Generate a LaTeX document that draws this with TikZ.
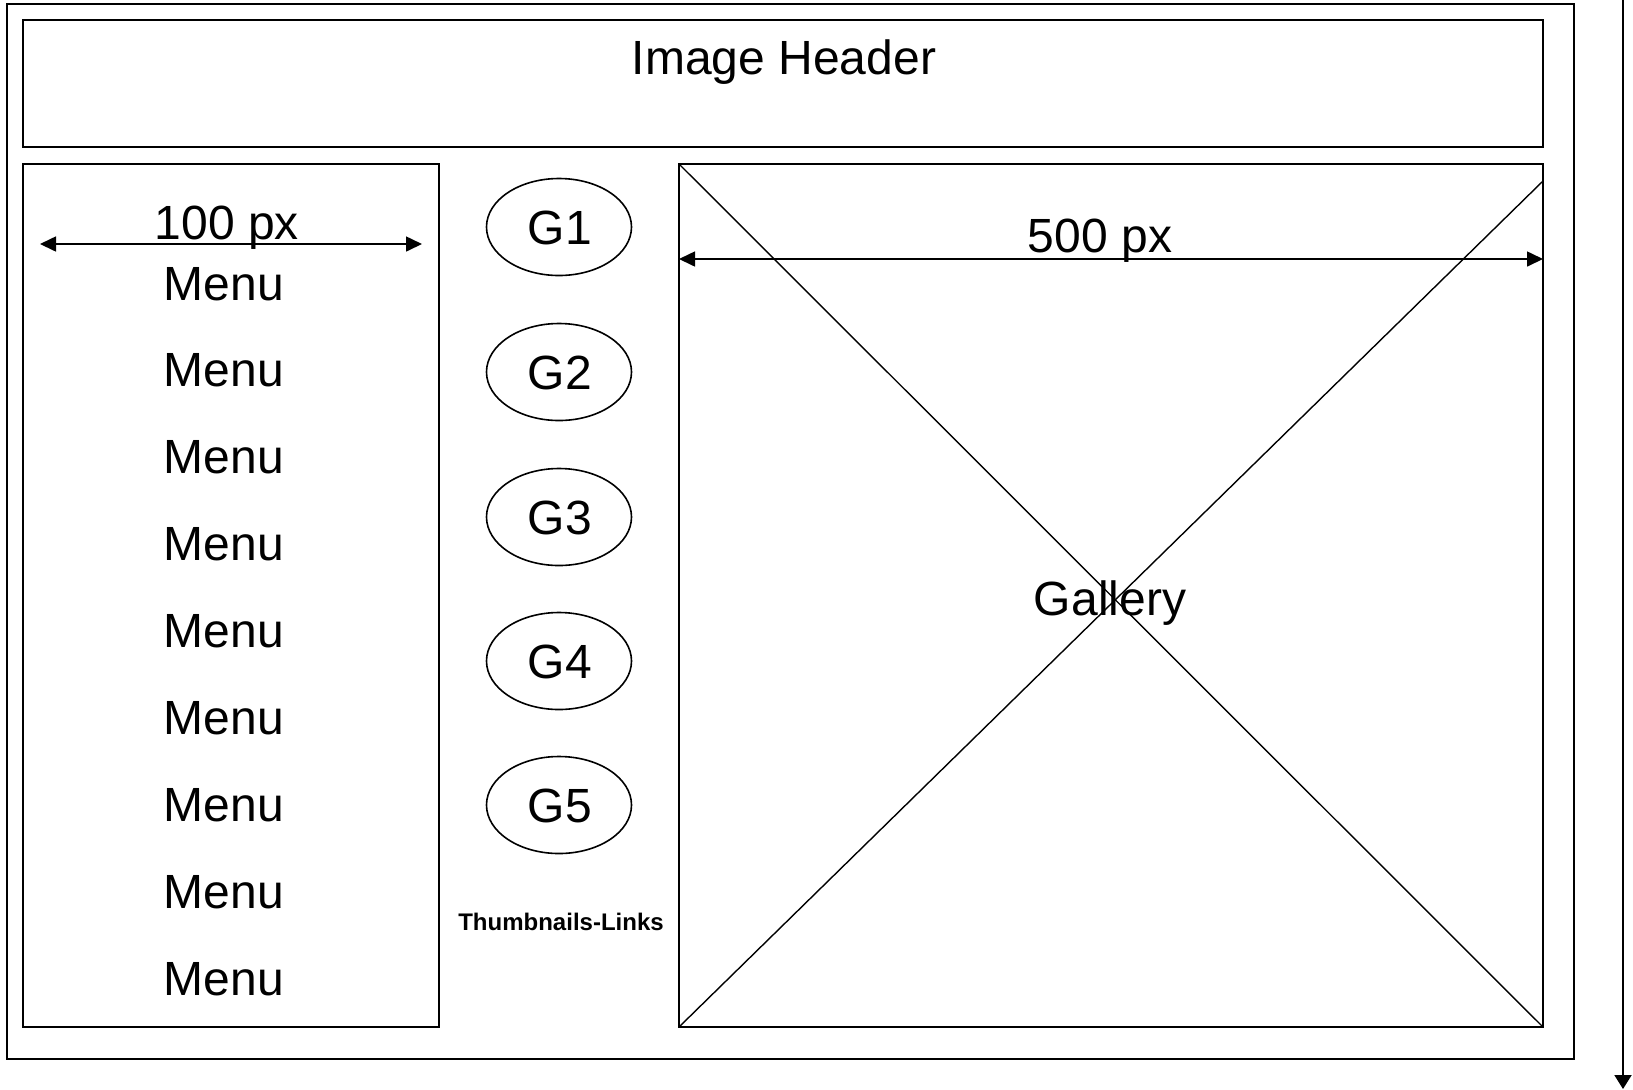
\documentclass[tikz,border=0pt]{standalone}
\usepackage{fontspec}
\setmainfont{Liberation Sans}
\usetikzlibrary{arrows.meta,shapes.geometric}
\begin{document}
\begin{tikzpicture}[x=0.5pt,y=-0.5pt,
  frame/.style={draw=black,line width=1pt},
  thin/.style={draw=black,line width=0.7pt},
  dim/.style={draw=black,line width=0.8pt,{Triangle[length=8pt,width=7.5pt]}-{Triangle[length=8pt,width=7.5pt]}},
  lbl/.style={anchor=base,inner sep=0pt,font=\fontsize{24pt}{28pt}\selectfont},
  small/.style={anchor=base,inner sep=0pt,font=\fontsize{12pt}{14pt}\selectfont\bfseries},
  thumb/.style={draw=black,line width=0.8pt,ellipse,minimum width=72.5pt,minimum height=48.5pt,inner sep=0pt}]
\useasboundingbox (0,0) rectangle (1633,1089);
% frames
\draw[frame] (7,4) rectangle (1574,1059);
\draw[frame] (23,20) rectangle (1543,147);
\draw[frame] (23,164) rectangle (439,1027);
\coordinate (gtl) at (679,164);
\coordinate (gbr) at (1543,1027);
\coordinate (gtr) at (1543,181);
\coordinate (gbl) at (679,1027);
\draw[frame] (gtl) rectangle (gbr);
\draw[thin] (gtl) -- (gbr);
\draw[thin] (gtr) -- (gbl);
% header
\node[lbl] (hdr) at (784,74) {Image Header};
% menu
\foreach \i in {0,...,8} {
  \node[lbl] (menu\i) at (224,{300+86.9*\i}) {Menu};
}
% 100 px
\coordinate (a1l) at (40,244);
\coordinate (a1r) at (422,244);
\draw[dim] (a1l) -- (a1r);
\node[lbl] (w100) at (227,239) {100 px};
% 500 px
\coordinate (a2l) at (679,259);
\coordinate (a2r) at (1543,259);
\draw[dim] (a2l) -- (a2r);
\node[lbl] (w500) at (1100,252) {500 px};
% gallery
\node[lbl] (gal) at (1110,615) {Gallery};
% thumbnails
\node[thumb] (g1) at (559,227) {};
\node[thumb] (g2) at (559,372) {};
\node[thumb] (g3) at (559,517) {};
\node[thumb] (g4) at (559,661) {};
\node[thumb] (g5) at (559,805) {};
\foreach \n/\y in {1/244,2/389,3/534,4/678,5/822} {
  \node[lbl] (gt\n) at (560,\y) {G\n};
}
\node[small] (tl) at (561,930) {Thumbnails-Links};
% right vertical arrow
\coordinate (vt) at (1623,0);
\coordinate (vb) at (1623,1089);
\draw[draw=black,line width=0.9pt,-{Triangle[length=7pt,width=8.5pt]}] (vt) -- (vb);
\end{tikzpicture}
\end{document}
